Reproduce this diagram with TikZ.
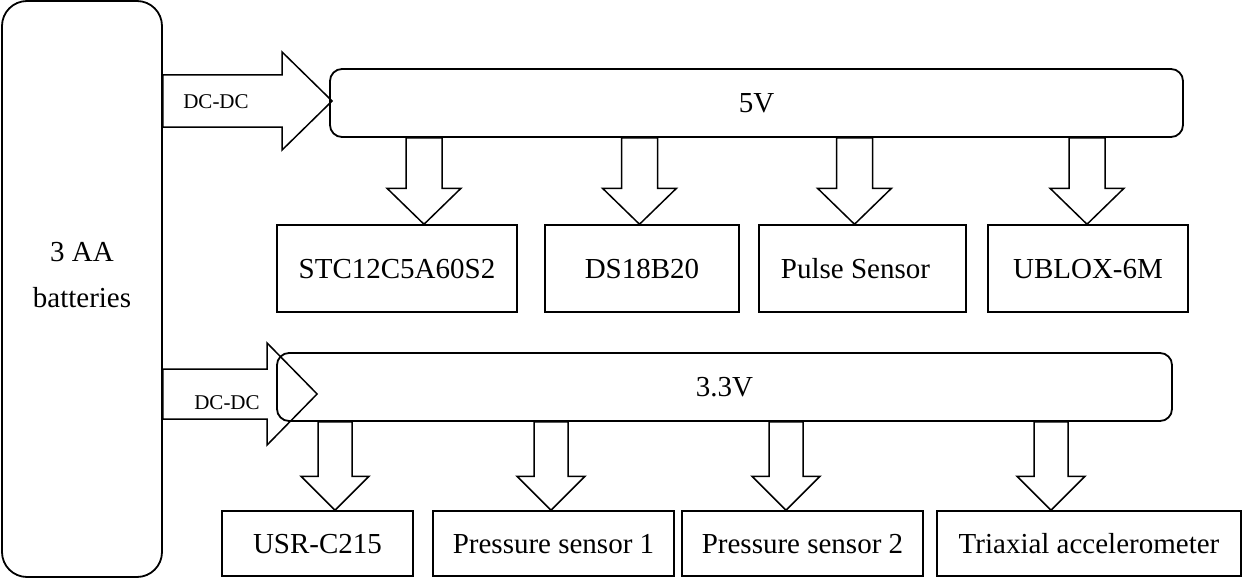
\documentclass[tikz,border=0pt]{standalone}
\usepackage{fontspec}
\setmainfont{Liberation Serif}
\usetikzlibrary{calc}
\tikzset{
  rail/.style={draw, line width=1.8pt, rounded corners=12pt, inner sep=0pt,
    font=\fontsize{29}{34}\selectfont, text height=19pt, text depth=0pt},
  cell/.style={draw, line width=1.5pt, inner sep=0pt,
    font=\fontsize{29}{34}\selectfont, text height=19pt, text depth=0pt},
  txt/.style={inner sep=0pt, font=\fontsize{29}{34}\selectfont},
  small/.style={inner sep=0pt, font=\fontsize{21}{25}\selectfont,
    text height=14pt, text depth=0pt},
  blk/.style={draw, line width=1.5pt, line join=miter},
}
% hollow block arrow from a supply rail down to a device
% #1 rail, #2 device, #3 tip x, #4 half shaft, #5 half head, #6 head length
\newcommand\tap[6]{%
  \draw[blk] let \p1=(#1.south), \p2=(#2.north) in
    (#3pt-#4pt,\y1) -- (#3pt-#4pt,\y2+#6pt) -- (#3pt-#5pt,\y2+#6pt) --
    (#3pt,\y2) -- (#3pt+#5pt,\y2+#6pt) -- (#3pt+#4pt,\y2+#6pt) --
    (#3pt+#4pt,\y1) -- cycle;}
\begin{document}
\begin{tikzpicture}[x=1pt, y=-1pt]
\useasboundingbox (0,0) rectangle (1243,578);

% battery pack
\node[draw, line width=1.8pt, rounded corners=25pt, minimum width=160pt,
  minimum height=576pt, inner sep=0pt] (bat) at (82,289) {};
\node[txt, anchor=base] (batA) at (82,261) {3 AA};
\node[txt, anchor=base] (batB) at (82,307) {batteries};

% supply rails
\node[rail, minimum width=853pt, minimum height=68pt] (v5) at (756.5,103) {5V};
\node[rail, minimum width=895pt, minimum height=68pt] (v33) at (724.5,387) {3.3V};

% 5 V loads
\node[cell, minimum width=240pt, minimum height=87pt] (stc) at (397,268.5) {STC12C5A60S2};
\node[cell, minimum width=194pt, minimum height=87pt] (ds) at (642,268.5) {DS18B20};
\node[cell, minimum width=207pt, minimum height=87pt] (pulse) at (862.5,268.5) {Pulse Sensor\hspace*{14pt}};
\node[cell, minimum width=200pt, minimum height=87pt] (ublox) at (1088,268.5) {UBLOX-6M};

% 3.3 V loads
\node[cell, minimum width=191pt, minimum height=65pt] (usr) at (317.5,543.5) {USR-C215};
\node[cell, minimum width=241pt, minimum height=65pt] (p1) at (553.5,543.5) {Pressure sensor 1};
\node[cell, minimum width=241pt, minimum height=65pt] (p2) at (802.5,543.5) {Pressure sensor 2};
\node[cell, minimum width=304pt, minimum height=65pt] (tri) at (1089,543.5) {Triaxial accelerometer};

% DC-DC converters feeding the rails
\draw[blk] let \p1=(bat.east), \p2=($(v5.west)+(3,-2)$) in
  (\x1,\y2+26pt) -- (\x2-50pt,\y2+26pt) -- (\x2-50pt,\y2+49pt) -- (\x2,\y2) --
  (\x2-50pt,\y2-49pt) -- (\x2-50pt,\y2-26pt) -- (\x1,\y2-26pt) -- cycle;
\draw[blk] let \p1=(bat.east), \p2=($(v33.west)+(41,7)$) in
  (\x1,\y2+25pt) -- (\x2-50pt,\y2+25pt) -- (\x2-50pt,\y2+51pt) -- (\x2,\y2) --
  (\x2-50pt,\y2-51pt) -- (\x2-50pt,\y2-25pt) -- (\x1,\y2-25pt) -- cycle;
\node[small] (dcA) at (216,102) {DC-DC};
\node[small] (dcB) at (227,402) {DC-DC};

% rail taps
\tap{v5}{stc}{424}{18}{37}{36}
\tap{v5}{ds}{639.5}{18}{37}{36}
\tap{v5}{pulse}{854.5}{18}{37}{36}
\tap{v5}{ublox}{1087}{18}{37}{36}
\tap{v33}{usr}{335}{17}{34}{34}
\tap{v33}{p1}{551}{17}{34}{34}
\tap{v33}{p2}{786}{17}{34}{34}
\tap{v33}{tri}{1051}{17}{34}{34}
\end{tikzpicture}
\end{document}
